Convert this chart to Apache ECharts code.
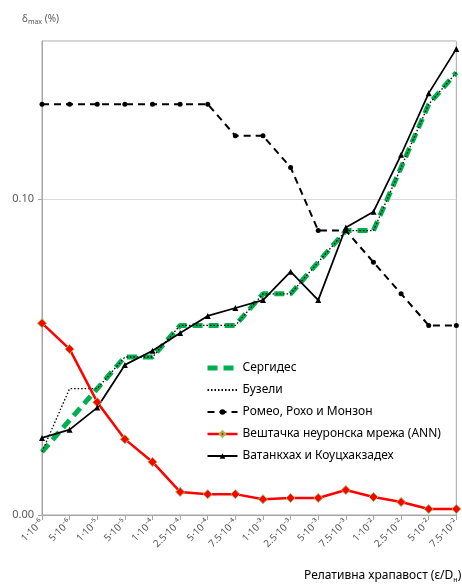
<!DOCTYPE html>
<html>
<head>
<meta charset="utf-8">
<script src="https://cdn.jsdelivr.net/npm/echarts@6/dist/echarts.min.js"></script>
<style>
  html, body { margin: 0; padding: 0; background: #fff; }
  #chart { width: 462px; height: 586px; }
</style>
</head>
<body>
<div id="chart"></div>
<script>
var categories = ['1·10⁻⁶', '5·10⁻⁶', '1·10⁻⁵', '5·10⁻⁵', '1·10⁻⁴', '2.5·10⁻⁴', '5·10⁻⁴', '7.5·10⁻⁴',
  '1·10⁻³', '2.5·10⁻³', '5·10⁻³', '7.5·10⁻³', '1·10⁻²', '2.5·10⁻²', '5·10⁻²', '7.5·10⁻²'];

var sergides = [0.02, 0.03, 0.04, 0.05, 0.05, 0.06, 0.06, 0.06, 0.07, 0.07, 0.08, 0.09, 0.09, 0.11, 0.13, 0.14];
var buzeli = [0.02, 0.04, 0.04, 0.05, 0.05, 0.06, 0.06, 0.06, 0.07, 0.07, 0.08, 0.09, 0.09, 0.11, 0.13, 0.14];
var romeo = [0.13, 0.13, 0.13, 0.13, 0.13, 0.13, 0.13, 0.12, 0.12, 0.11, 0.09, 0.09, 0.08, 0.07, 0.06, 0.06];
var ann = [0.0607, 0.0525, 0.0357, 0.024, 0.0168, 0.0073, 0.0066, 0.0066, 0.005, 0.0054, 0.0054, 0.0079, 0.0057, 0.0041, 0.0019, 0.0019];
var vatankhah = [0.0244, 0.027, 0.034, 0.0475, 0.052, 0.0576, 0.063, 0.0655, 0.068, 0.077, 0.068, 0.091, 0.096, 0.114, 0.1335, 0.1475];

var names = ['Сергидес', 'Бузели', 'Ромео, Рохо и Монзон', 'Вештачка неуронска мрежа (ANN)', 'Ватанкхах и Коуцхакзадех'];

var chart = echarts.init(document.getElementById('chart'));
chart.setOption({
  animation: false,
  textStyle: { fontFamily: 'Noto Sans' },
  grid: {
    left: 42, right: 2, top: 41, bottom: 71,
    show: true, borderColor: '#a6a6a6', borderWidth: 1
  },
  legend: {
    orient: 'vertical',
    left: 200,
    top: 357,
    itemWidth: 30,
    itemHeight: 7,
    itemGap: 10,
    textStyle: { color: '#000', fontSize: 12, fontFamily: 'Noto Sans' },
    data: [
      { name: names[0], itemStyle: { opacity: 0 }, lineStyle: { width: 5, type: [10, 6] } },
      { name: names[1], itemStyle: { opacity: 0 } },
      { name: names[2] },
      { name: names[3], lineStyle: { width: 2.5 } },
      { name: names[4] }
    ]
  },
  xAxis: {
    type: 'category',
    boundaryGap: false,
    data: categories,
    axisLine: { lineStyle: { color: '#a6a6a6' } },
    axisTick: { alignWithLabel: true, length: 5, lineStyle: { color: '#a6a6a6' } },
    axisLabel: { rotate: 45, color: '#595959', fontSize: 10, margin: 6, interval: 0 }
  },
  yAxis: {
    type: 'value',
    min: 0,
    max: 0.15,
    interval: 0.1,
    axisLine: { show: true, lineStyle: { color: '#a6a6a6' } },
    axisTick: { show: true, length: 4, lineStyle: { color: '#a6a6a6' } },
    axisLabel: {
      color: '#595959', fontSize: 11, margin: 8, showMaxLabel: false,
      formatter: function (v) { return v.toFixed(2); }
    },
    splitLine: { lineStyle: { color: '#d9d9d9' } }
  },
  graphic: [
    {
      type: 'text', left: 22, top: 14,
      style: {
        text: '{a|δ}{b|max}{a| (%)}',
        rich: {
          a: { fontSize: 10, fill: '#595959', fontFamily: 'Noto Sans' },
          b: { fontSize: 7, fill: '#595959', fontFamily: 'Noto Sans', verticalAlign: 'bottom', padding: [6, 0, 0, 0] }
        }
      }
    },
    {
      type: 'text', left: 304, top: 570,
      style: {
        text: '{a|Релативна храпавост (ε/D}{b|н}{a|)}',
        rich: {
          a: { fontSize: 12, fill: '#000', fontFamily: 'Noto Sans' },
          b: { fontSize: 7, fill: '#000', fontFamily: 'Noto Sans', padding: [8, 0, 0, 0] }
        }
      }
    }
  ],
  series: [
    {
      name: names[0], type: 'line', data: sergides, symbol: 'none',
      itemStyle: { color: '#00b050' },
      lineStyle: { color: '#00b050', width: 5, type: [10, 6] }
    },
    {
      name: names[1], type: 'line', data: buzeli, symbol: 'none',
      itemStyle: { color: '#000' },
      lineStyle: { color: '#000', width: 1.3, type: [1.5, 2] }
    },
    {
      name: names[2], type: 'line', data: romeo, symbol: 'circle', symbolSize: 5,
      itemStyle: { color: '#000' },
      lineStyle: { color: '#000', width: 2, type: [7, 5] }
    },
    {
      name: names[3], type: 'line', data: ann, symbol: 'diamond', symbolSize: 9,
      itemStyle: { color: '#ff0000', borderColor: '#9bbb59', borderWidth: 1 },
      lineStyle: { color: '#ff0000', width: 2.5 }
    },
    {
      name: names[4], type: 'line', data: vatankhah, symbol: 'triangle', symbolSize: 6,
      itemStyle: { color: '#000' },
      lineStyle: { color: '#000', width: 1.75 }
    }
  ]
});
</script>
</body>
</html>
